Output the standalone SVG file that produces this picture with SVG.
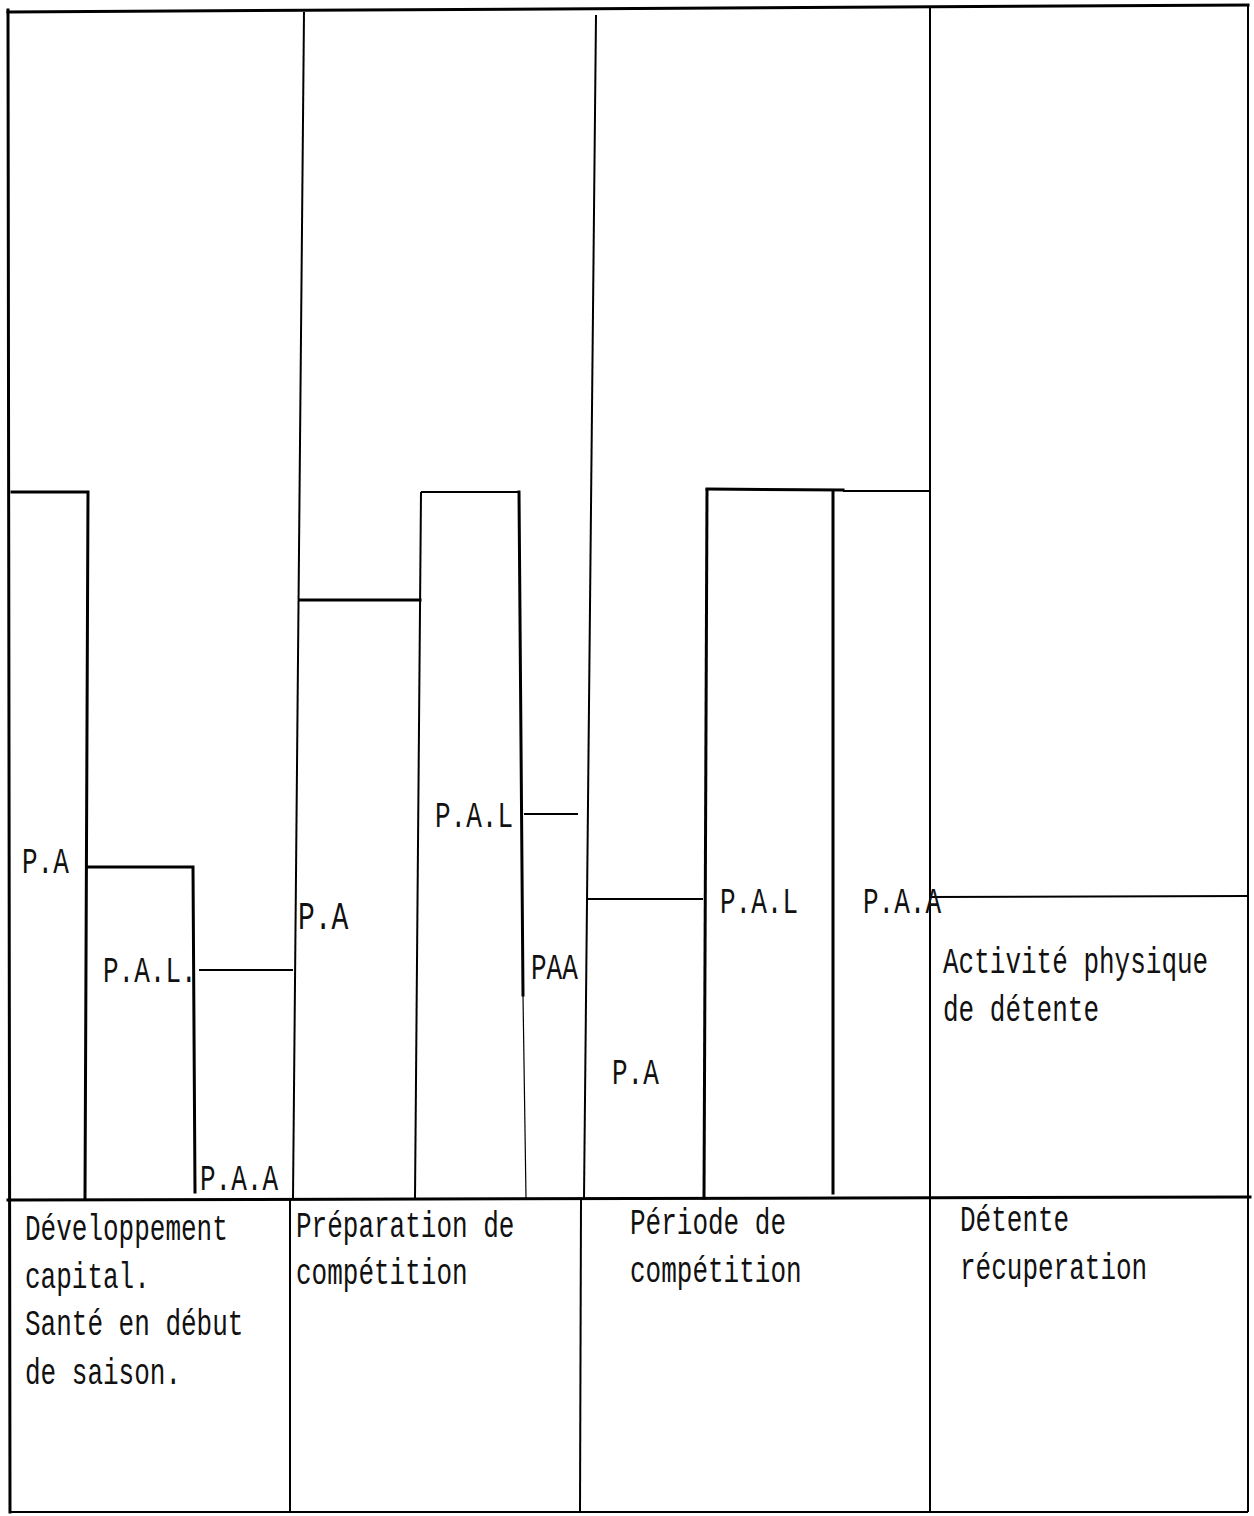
<svg xmlns="http://www.w3.org/2000/svg" width="1254" height="1516" viewBox="0 0 1254 1516">
<style>
.t{font-family:"Liberation Mono","Courier New",monospace;font-size:26px;fill:#111}
.k{stroke:#000;stroke-width:3;fill:none;stroke-linecap:square}
.m{stroke:#000;stroke-width:2;fill:none}
.f{stroke:#000;stroke-width:1.2;fill:none}
</style>
<rect width="1254" height="1516" fill="#fff"/>
<g id="frame">
<path class="k" d="M8 12 L1248 5"/>
<path class="k" d="M8 10 L10 1512"/>
<path class="m" d="M1248 5 L1248 1512"/>
<path class="m" d="M10 1512 L1248 1512"/>
<path class="k" d="M8 1200 L1250 1197"/>
<path class="m" d="M304 12 L293 1198"/>
<path class="m" d="M596 15 L584 1198"/>
<path class="m" d="M930 8 L930 1512"/>
<path class="m" d="M290 1200 L290 1512"/>
<path class="m" d="M581 1200 L580 1512"/>
</g>
<g id="steps">
<path class="k" d="M12 492 L88 492 L85 1198"/>
<path class="k" d="M88 867 L193 867 L195 1192"/>
<path class="m" d="M199 970 L293 970"/>
<path class="k" d="M300 600 L420 600"/>
<path class="m" d="M421 492 L415 1198"/>
<path class="m" d="M421 492 L520 492"/>
<path class="k" d="M519 492 L523 995"/>
<path class="f" d="M523 995 L526 1198"/>
<path class="m" d="M524 814 L578 814"/>
<path class="m" d="M587 899 L703 899"/>
<path class="k" d="M707 490 L704 1198"/>
<path class="k" d="M707 489 L843 490"/>
<path class="m" d="M843 491 L930 491"/>
<path class="k" d="M833 492 L833 1193"/>
<path class="m" d="M930 897 L1248 896"/>
</g>
<g id="labels">
<text class="t" transform="translate(22 873) scale(1 1.4)">P.A</text>
<text class="t" transform="translate(103 982) scale(1 1.4)">P.A.L.</text>
<text class="t" transform="translate(200 1190) scale(1 1.4)">P.A.A</text>
<text class="t" transform="translate(298 929) scale(1 1.4)" style="font-size:28px">P.A</text>
<text class="t" transform="translate(435 827) scale(1 1.4)">P.A.L</text>
<text class="t" transform="translate(531 979) scale(1 1.4)">PAA</text>
<text class="t" transform="translate(612 1084) scale(1 1.4)">P.A</text>
<text class="t" transform="translate(720 913) scale(1 1.4)">P.A.L</text>
<text class="t" transform="translate(863 913) scale(1 1.4)">P.A.A</text>
<text class="t" transform="translate(943 973) scale(1 1.4)">Activité physique</text>
<text class="t" transform="translate(943 1021) scale(1 1.4)">de détente</text>
</g>
<g id="phase1">
<text class="t" transform="translate(25 1240) scale(1 1.4)">Développement</text>
<text class="t" transform="translate(25 1288) scale(1 1.4)">capital.</text>
<text class="t" transform="translate(25 1335) scale(1 1.4)">Santé en début</text>
<text class="t" transform="translate(25 1384) scale(1 1.4)">de saison.</text>
</g>
<g id="phase2">
<text class="t" transform="translate(296 1237) scale(1 1.4)">Préparation de</text>
<text class="t" transform="translate(296 1284) scale(1 1.4)">compétition</text>
</g>
<g id="phase3">
<text class="t" transform="translate(630 1234) scale(1 1.4)">Période de</text>
<text class="t" transform="translate(630 1282) scale(1 1.4)">compétition</text>
</g>
<g id="phase4">
<text class="t" transform="translate(960 1231) scale(1 1.4)">Détente</text>
<text class="t" transform="translate(960 1279) scale(1 1.4)">récuperation</text>
</g>
</svg>
